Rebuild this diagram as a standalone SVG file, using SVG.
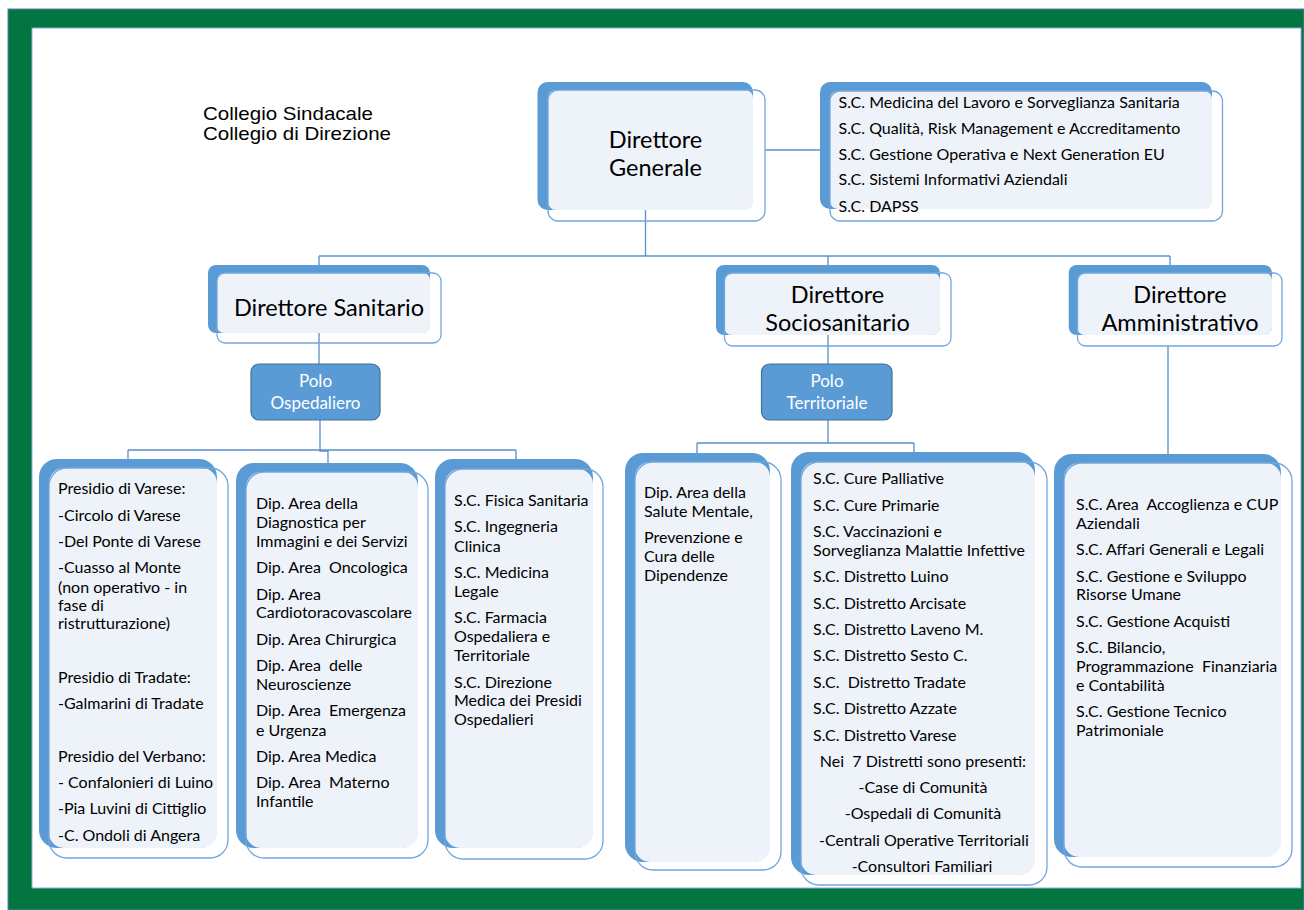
<svg xmlns="http://www.w3.org/2000/svg" width="1304" height="910" viewBox="0 0 1304 910">
<style>
.back{fill:#5b9bd5}
.fill{fill:#eef3fa}
.outline{fill:none;stroke:#72a7dd;stroke-width:1.3}
.conn{fill:none;stroke:#5b8fca;stroke-width:1.3}
text{font-family:Lato,"Open Sans",sans-serif;fill:#000}
.b{font-size:16px}
.title{font-size:23.5px;text-anchor:middle}
.polo{fill:#5b9bd5;stroke:#41719c;stroke-width:1.2}
.pt{font-size:17px;fill:#fff;text-anchor:middle}
.c{text-anchor:middle}
.col{font-family:"Liberation Sans",Arial,sans-serif;font-size:19px}
</style>
<rect x="8" y="9" width="1296" height="901" fill="#037541" stroke="#5a7fb5" stroke-width="1"/>
<rect x="32" y="28" width="1269" height="860" fill="#fff" stroke="#8eaadb" stroke-width="1"/>

<g id="collegio">
<text class="col" x="203" y="120" textLength="170" lengthAdjust="spacingAndGlyphs">Collegio Sindacale</text>
<text class="col" x="203" y="140" textLength="188" lengthAdjust="spacingAndGlyphs">Collegio di Direzione</text>
</g>

<g id="connectors">
<path class="conn" d="M765,150 H822"/>
<path class="conn" d="M645.5,210 V256"/>
<path class="conn" d="M319,256 H1170"/>
<path class="conn" d="M319,256 V266 M828,256 V266 M1170,256 V266"/>
<path class="conn" d="M319,333 V364"/>
<path class="conn" d="M320,420 V451 H328 V463"/>
<path class="conn" d="M128,450 H516 M128,450 V460 M516,450 V460"/>
<path class="conn" d="M828,335 V364"/>
<path class="conn" d="M828,420 V443 M697,443 H914 M697,443 V454 M914,443 V453"/>
<path class="conn" d="M1168,346 V455"/>
</g>

<g id="direttore-generale">
<rect class="back" x="537.5" y="82" width="215.5" height="128" rx="10"/>
<rect class="fill" x="548" y="90" width="205" height="120" rx="8"/>
<rect class="outline" x="548" y="90" width="217" height="131" rx="10"/>
<text class="title" x="655.5" y="148">Direttore</text>
<text class="title" x="655.5" y="176">Generale</text>
</g>

<g id="staff-dg">
<rect class="back" x="820" y="82" width="392" height="127" rx="10"/>
<rect class="fill" x="830" y="91" width="382" height="118" rx="8"/>
<rect class="outline" x="830" y="91" width="392.5" height="130" rx="10"/>
<text class="b" x="838.5" y="108">S.C. Medicina del Lavoro e Sorveglianza Sanitaria</text>
<text class="b" x="838.5" y="134">S.C. Qualità, Risk Management e Accreditamento</text>
<text class="b" x="838.5" y="160">S.C. Gestione Operativa e Next Generation EU</text>
<text class="b" x="838.5" y="185">S.C. Sistemi Informativi Aziendali</text>
<text class="b" x="838.5" y="212">S.C. DAPSS</text>
</g>

<g id="direttore-sanitario">
<rect class="back" x="208" y="265" width="222" height="68" rx="8"/>
<rect class="fill" x="217" y="273" width="213" height="60" rx="7"/>
<rect class="outline" x="217" y="273" width="224" height="70" rx="8"/>
<text class="title" x="329" y="316">Direttore Sanitario</text>
</g>

<g id="direttore-sociosanitario">
<rect class="back" x="716" y="265" width="224" height="70" rx="8"/>
<rect class="fill" x="724.5" y="273" width="215.5" height="62" rx="7"/>
<rect class="outline" x="724.5" y="273" width="226.5" height="73" rx="8"/>
<text class="title" x="837.5" y="303">Direttore</text>
<text class="title" x="837.5" y="331">Sociosanitario</text>
</g>

<g id="direttore-amministrativo">
<rect class="back" x="1068.7" y="265" width="203.3" height="70" rx="8"/>
<rect class="fill" x="1077.5" y="273" width="194.5" height="62" rx="7"/>
<rect class="outline" x="1077.5" y="273" width="204.5" height="73" rx="8"/>
<text class="title" x="1180" y="303">Direttore</text>
<text class="title" x="1180" y="331">Amministrativo</text>
</g>

<g id="polo-ospedaliero">
<rect class="polo" x="251" y="364" width="129" height="56" rx="8"/>
<text class="pt" x="315.5" y="387">Polo</text>
<text class="pt" x="315.5" y="409">Ospedaliero</text>
</g>

<g id="polo-territoriale">
<rect class="polo" x="761.5" y="364" width="130.5" height="56" rx="8"/>
<text class="pt" x="827" y="387">Polo</text>
<text class="pt" x="827" y="409">Territoriale</text>
</g>

<g id="presidi">
<rect class="back" x="39" y="459" width="178" height="389" rx="18"/>
<rect class="fill" x="49" y="468" width="168" height="380" rx="15"/>
<rect class="outline" x="49" y="468" width="179" height="390" rx="18"/>
<text class="b" x="58" y="494">Presidio di Varese:</text>
<text class="b" x="58" y="521">-Circolo di Varese</text>
<text class="b" x="58" y="547">-Del Ponte di Varese</text>
<text class="b" x="58" y="573">-Cuasso al Monte</text>
<text class="b" x="58" y="593">(non operativo - in</text>
<text class="b" x="58" y="611">fase di</text>
<text class="b" x="58" y="629">ristrutturazione)</text>
<text class="b" x="58" y="683">Presidio di Tradate:</text>
<text class="b" x="58" y="709">-Galmarini di Tradate</text>
<text class="b" x="58" y="762">Presidio del Verbano:</text>
<text class="b" x="58" y="788">- Confalonieri di Luino</text>
<text class="b" x="58" y="814">-Pia Luvini di Cittiglio</text>
<text class="b" x="58" y="841">-C. Ondoli di Angera</text>
</g>

<g id="dipartimenti">
<rect class="back" x="236" y="463" width="182" height="385" rx="18"/>
<rect class="fill" x="246" y="472" width="172" height="376" rx="15"/>
<rect class="outline" x="246" y="472" width="182" height="386" rx="18"/>
<text class="b" x="256" y="509">Dip. Area della</text>
<text class="b" x="256" y="528">Diagnostica per</text>
<text class="b" x="256" y="547">Immagini e dei Servizi</text>
<text class="b" x="256" y="573" xml:space="preserve">Dip. Area  Oncologica</text>
<text class="b" x="256" y="600">Dip. Area</text>
<text class="b" x="256" y="618">Cardiotoracovascolare</text>
<text class="b" x="256" y="645">Dip. Area Chirurgica</text>
<text class="b" x="256" y="671" xml:space="preserve">Dip. Area  delle</text>
<text class="b" x="256" y="690">Neuroscienze</text>
<text class="b" x="256" y="716" xml:space="preserve">Dip. Area  Emergenza</text>
<text class="b" x="256" y="736">e Urgenza</text>
<text class="b" x="256" y="762">Dip. Area Medica</text>
<text class="b" x="256" y="788" xml:space="preserve">Dip. Area  Materno</text>
<text class="b" x="256" y="807">Infantile</text>
</g>

<g id="sc-ospedaliere">
<rect class="back" x="435" y="459" width="158" height="389" rx="18"/>
<rect class="fill" x="445" y="469" width="148" height="379" rx="15"/>
<rect class="outline" x="445" y="469" width="158" height="390" rx="18"/>
<text class="b" x="454" y="506">S.C. Fisica Sanitaria</text>
<text class="b" x="454" y="532">S.C. Ingegneria</text>
<text class="b" x="454" y="552">Clinica</text>
<text class="b" x="454" y="578">S.C. Medicina</text>
<text class="b" x="454" y="597">Legale</text>
<text class="b" x="454" y="623">S.C. Farmacia</text>
<text class="b" x="454" y="642">Ospedaliera e</text>
<text class="b" x="454" y="661">Territoriale</text>
<text class="b" x="454" y="688">S.C. Direzione</text>
<text class="b" x="454" y="706">Medica dei Presidi</text>
<text class="b" x="454" y="725">Ospedalieri</text>
</g>

<g id="salute-mentale">
<rect class="back" x="625" y="453" width="145" height="409" rx="18"/>
<rect class="fill" x="635" y="462" width="135" height="400" rx="15"/>
<rect class="outline" x="635" y="462" width="146" height="408" rx="18"/>
<text class="b" x="644" y="498">Dip. Area della</text>
<text class="b" x="644" y="517">Salute Mentale,</text>
<text class="b" x="644" y="543">Prevenzione e</text>
<text class="b" x="644" y="562">Cura delle</text>
<text class="b" x="644" y="581">Dipendenze</text>
</g>

<g id="sc-territoriali">
<rect class="back" x="791" y="452" width="244" height="423" rx="18"/>
<rect class="fill" x="801" y="462" width="234" height="413" rx="15"/>
<rect class="outline" x="801" y="462" width="246" height="423" rx="18"/>
<text class="b" x="813" y="484">S.C. Cure Palliative</text>
<text class="b" x="813" y="511">S.C. Cure Primarie</text>
<text class="b" x="813" y="537">S.C. Vaccinazioni e</text>
<text class="b" x="813" y="556">Sorveglianza Malattie Infettive</text>
<text class="b" x="813" y="582">S.C. Distretto Luino</text>
<text class="b" x="813" y="609">S.C. Distretto Arcisate</text>
<text class="b" x="813" y="635">S.C. Distretto Laveno M.</text>
<text class="b" x="813" y="661">S.C. Distretto Sesto C.</text>
<text class="b" x="813" y="688" xml:space="preserve">S.C.  Distretto Tradate</text>
<text class="b" x="813" y="714">S.C. Distretto Azzate</text>
<text class="b" x="813" y="741">S.C. Distretto Varese</text>
<text class="b c" x="923" y="767" xml:space="preserve">Nei  7 Distretti sono presenti:</text>
<text class="b c" x="923" y="793">-Case di Comunità</text>
<text class="b c" x="923" y="819">-Ospedali di Comunità</text>
<text class="b c" x="924" y="846">-Centrali Operative Territoriali</text>
<text class="b c" x="922" y="872">-Consultori Familiari</text>
</g>

<g id="sc-amministrative">
<rect class="back" x="1054" y="454" width="227" height="403" rx="18"/>
<rect class="fill" x="1064" y="463" width="217" height="394" rx="15"/>
<rect class="outline" x="1064" y="463" width="228" height="404" rx="18"/>
<text class="b" x="1076" y="510" xml:space="preserve">S.C. Area  Accoglienza e CUP</text>
<text class="b" x="1076" y="529">Aziendali</text>
<text class="b" x="1076" y="555">S.C. Affari Generali e Legali</text>
<text class="b" x="1076" y="582">S.C. Gestione e Sviluppo</text>
<text class="b" x="1076" y="600">Risorse Umane</text>
<text class="b" x="1076" y="627">S.C. Gestione Acquisti</text>
<text class="b" x="1076" y="653">S.C. Bilancio,</text>
<text class="b" x="1076" y="672" xml:space="preserve">Programmazione  Finanziaria</text>
<text class="b" x="1076" y="691">e Contabilità</text>
<text class="b" x="1076" y="717">S.C. Gestione Tecnico</text>
<text class="b" x="1076" y="736">Patrimoniale</text>
</g>
</svg>
